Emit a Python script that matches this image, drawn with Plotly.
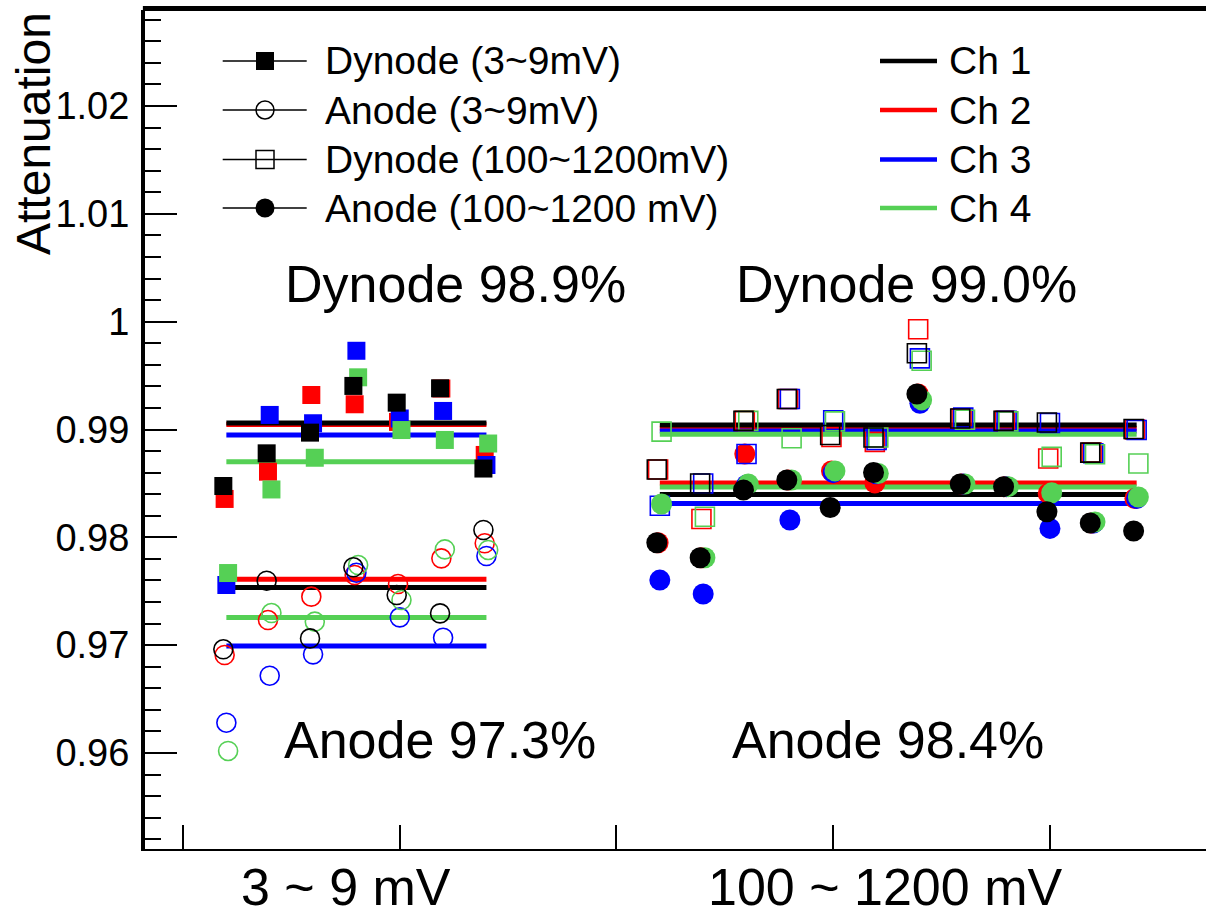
import plotly.graph_objects as go
import numpy as np

# ---------------- data ----------------
channels = ["Ch 1", "Ch 2", "Ch 3", "Ch 4"]
ch_colors = ["#000000", "#ff0000", "#0000ff", "#55d055"]

# positions (arbitrary index units along x)
x_low = [1, 2, 3, 4, 5, 6, 7]
x_high = [11, 12, 13, 14, 15, 16, 17, 18, 19, 20, 21, 22]

# 3~9 mV : Dynode (filled squares)
dyn_low = [
    [0.98476, 0.98779, 0.98971, 0.99404, 0.99249, 0.99382, 0.98638],
    [0.98356, 0.98609, 0.99320, 0.99234, 0.99070, 0.99380, 0.98764],
    [0.97558, 0.99135, 0.99058, 0.99730, 0.99102, 0.99172, 0.98671],
    [0.97669, 0.98444, 0.98738, 0.99484, 0.98995, 0.98903, 0.98870],
]
# 3~9 mV : Anode (open circles)
ano_low = [
    [0.96962, 0.97598, 0.97063, 0.97722, 0.97465, 0.97295, 0.98068],
    [0.96909, 0.97233, 0.97450, 0.97651, 0.97567, 0.97805, 0.97945],
    [0.96281, 0.96717, 0.96915, 0.97672, 0.97258, 0.97069, 0.97827],
    [0.96019, 0.97298, 0.97218, 0.97743, 0.97419, 0.97888, 0.97883],
]
# 100~1200 mV : Dynode (open squares)
dyn_high = [
    [0.98629, 0.98499, 0.99080, 0.99283, 0.98949, 0.98926, 0.99707, 0.99102, 0.99080, 0.99065, 0.98786, 0.99005],
    [0.98629, 0.98170, 0.99080, 0.99283, 0.98930, 0.98885, 0.99929, 0.99102, 0.99080, 0.98731, 0.98786, 0.99000],
    [0.98293, 0.98499, 0.98773, 0.99283, 0.99085, 0.98903, 0.99660, 0.99110, 0.99080, 0.99060, 0.98780, 0.98996],
    [0.98980, 0.98191, 0.99080, 0.98919, 0.99075, 0.98926, 0.99638, 0.99090, 0.99075, 0.98746, 0.98770, 0.98685],
]
# 100~1200 mV : Anode (filled circles)
ano_high = [
    [0.97950, 0.97811, 0.98439, 0.98532, 0.98277, 0.98601, 0.99329, 0.98495, 0.98470, 0.98237, 0.98133, 0.98059],
    [0.97950, 0.97811, 0.98773, 0.98532, 0.98616, 0.98505, 0.99329, 0.98495, 0.98470, 0.98407, 0.98133, 0.98360],
    [0.97604, 0.97475, 0.98485, 0.98161, 0.98600, 0.98590, 0.99243, 0.98495, 0.98470, 0.98083, 0.98133, 0.98360],
    [0.98309, 0.97811, 0.98495, 0.98532, 0.98616, 0.98592, 0.99274, 0.98495, 0.98470, 0.98413, 0.98143, 0.98374],
]

# fitted averages (horizontal lines)
fit_dyn_low = [0.99061, 0.99046, 0.98949, 0.98701]
fit_ano_low = [0.97535, 0.97611, 0.96992, 0.97256]
fit_dyn_high = [0.99042, 0.99011, 0.98986, 0.98955]
fit_ano_high = [0.98397, 0.98505, 0.98313, 0.98467]

y_tick_vals = [0.96, 0.97, 0.98, 0.99, 1.0, 1.01, 1.02]
y_tick_text = ["0.96", "0.97", "0.98", "0.99", "1", "1.01", "1.02"]
x_tick_vals = [0, 5, 10, 15, 20]

group_labels = ["3 ~ 9 mV", "100 ~ 1200 mV"]
summary_labels = ["Dynode 98.9%", "Dynode 99.0%", "Anode 97.3%", "Anode 98.4%"]
legend_marker_labels = ["Dynode (3~9mV)", "Anode (3~9mV)", "Dynode (100~1200mV)", "Anode (100~1200 mV)"]

# ---------------- layout constants ----------------
W, H = 1206, 918
PL, PR, PT, PB = 145, 1206, 10, 849
X_RANGE = [-0.877, 23.6]
Y_RANGE = [0.9511, 1.0289]
FONT = "Liberation Sans, Arial, Helvetica, sans-serif"
ch_offsets = [-0.07, -0.04, 0.0, 0.04]
draw_order = [1, 2, 3, 0]


def px(xp):
    return (xp - PL) / (PR - PL)


def py(yp):
    return (PB - yp) / (PB - PT)


def dx(xp):  # pixel -> x data (for legend decoration only)
    return X_RANGE[0] + px(xp) * (X_RANGE[1] - X_RANGE[0])


def dy(yp):
    return Y_RANGE[0] + py(yp) * (Y_RANGE[1] - Y_RANGE[0])


fig = go.Figure()

# fit lines (under markers)
for ci in draw_order:
    col = ch_colors[ci]
    for xs, val in ((x_low, fit_dyn_low[ci]), (x_low, fit_ano_low[ci]),
                    (x_high, fit_dyn_high[ci]), (x_high, fit_ano_high[ci])):
        fig.add_trace(go.Scatter(x=[xs[0], xs[-1]], y=[val, val], mode="lines",
                                 line=dict(color=col, width=5), showlegend=False,
                                 hoverinfo="skip"))

# markers
for ci in draw_order:
    col = ch_colors[ci]
    off = ch_offsets[ci]
    xl = [v + off for v in x_low]
    xh = [v + off for v in x_high]
    fig.add_trace(go.Scatter(x=xl, y=ano_low[ci], mode="markers",
                             marker=dict(symbol="circle-open", size=19, color=col, line=dict(width=1.6)),
                             showlegend=False))
    fig.add_trace(go.Scatter(x=xl, y=dyn_low[ci], mode="markers",
                             marker=dict(symbol="square", size=18, color=col, line=dict(width=0)),
                             showlegend=False))
    fig.add_trace(go.Scatter(x=xh, y=dyn_high[ci], mode="markers",
                             marker=dict(symbol="square-open", size=19, color=col, line=dict(width=1.6)),
                             showlegend=False))
    fig.add_trace(go.Scatter(x=xh, y=ano_high[ci], mode="markers",
                             marker=dict(symbol="circle", size=21, color=col, line=dict(width=0)),
                             showlegend=False))

# ---------------- legend ----------------
leg_rows = [61, 110, 159.5, 208]
leg_syms = [("square", 18, 0), ("circle-open", 18, 1.5), ("square-open", 18, 1.5), ("circle", 19, 0)]
for i, (sym, sz, lw) in enumerate(leg_syms):
    yy = leg_rows[i]
    fig.add_trace(go.Scatter(x=[dx(222.7), dx(306.7)], y=[dy(yy), dy(yy)], mode="lines",
                             line=dict(color="black", width=1.5), showlegend=False, hoverinfo="skip"))
    fig.add_trace(go.Scatter(x=[dx(265)], y=[dy(yy)], mode="markers",
                             marker=dict(symbol=sym, size=sz, color="black", line=dict(width=lw, color="black")),
                             showlegend=False, hoverinfo="skip"))
    fig.add_annotation(x=px(323), y=py(yy), xref="paper", yref="paper", text=legend_marker_labels[i],
                       showarrow=False, xanchor="left", yanchor="middle",
                       font=dict(family=FONT, size=39, color="black"))
for i, ch in enumerate(channels):
    yy = leg_rows[i]
    fig.add_trace(go.Scatter(x=[dx(880), dx(937)], y=[dy(yy), dy(yy)], mode="lines",
                             line=dict(color=ch_colors[i], width=4.5), showlegend=False, hoverinfo="skip"))
    fig.add_annotation(x=px(947), y=py(yy), xref="paper", yref="paper", text=ch,
                       showarrow=False, xanchor="left", yanchor="middle",
                       font=dict(family=FONT, size=39, color="black"))

# summary labels
summary_pos = [(455, 284), (906, 284), (440, 740), (888, 740)]
for t, (xp, yp) in zip(summary_labels, summary_pos):
    fig.add_annotation(x=px(xp), y=py(yp), xref="paper", yref="paper", text=t, showarrow=False,
                       xanchor="center", yanchor="middle", font=dict(family=FONT, size=52, color="black"))

# group labels under the axis
for t, xp in zip(group_labels, [346, 885]):
    fig.add_annotation(x=px(xp), y=py(887), xref="paper", yref="paper", text=t, showarrow=False,
                       xanchor="center", yanchor="middle", font=dict(family=FONT, size=52, color="black"))

# y title
fig.add_annotation(x=px(33), y=py(134), xref="paper", yref="paper", text="Attenuation", showarrow=False,
                   textangle=-90, xanchor="center", yanchor="middle",
                   font=dict(family=FONT, size=48, color="black"))

# thick top frame line (open at the right, like the reference)
fig.add_shape(type="line", xref="paper", yref="paper", x0=-0.002, x1=1.01, y0=py(8.5), y1=py(8.5),
              line=dict(color="black", width=5))

fig.update_layout(
    width=W, height=H,
    margin=dict(l=PL, r=W - PR, t=PT, b=H - PB),
    plot_bgcolor="white", paper_bgcolor="white",
    showlegend=False,
    xaxis=dict(range=X_RANGE, tickmode="array", tickvals=x_tick_vals, ticks="inside",
               ticklen=24, tickwidth=1.5, tickcolor="black", showticklabels=False,
               showgrid=False, zeroline=False, showline=True, linecolor="black", linewidth=2,
               mirror=False),
    yaxis=dict(range=Y_RANGE, tickmode="array", tickvals=y_tick_vals, ticktext=y_tick_text,
               ticks="inside", ticklen=32, tickwidth=2, tickcolor="black",
               minor=dict(tickmode="linear", tick0=0.96, dtick=0.002, ticks="inside", ticklen=16,
                          tickwidth=2, tickcolor="black", showgrid=False),
               tickfont=dict(family=FONT, size=38, color="black"), ticklabelstandoff=4,
               showgrid=False, zeroline=False, showline=True, linecolor="black", linewidth=4),
)

fig.write_html("out.html", config={"displayModeBar": False},
               post_script="document.body.style.margin='0';document.body.style.overflow='hidden';"
                           "document.documentElement.style.overflow='hidden';")
